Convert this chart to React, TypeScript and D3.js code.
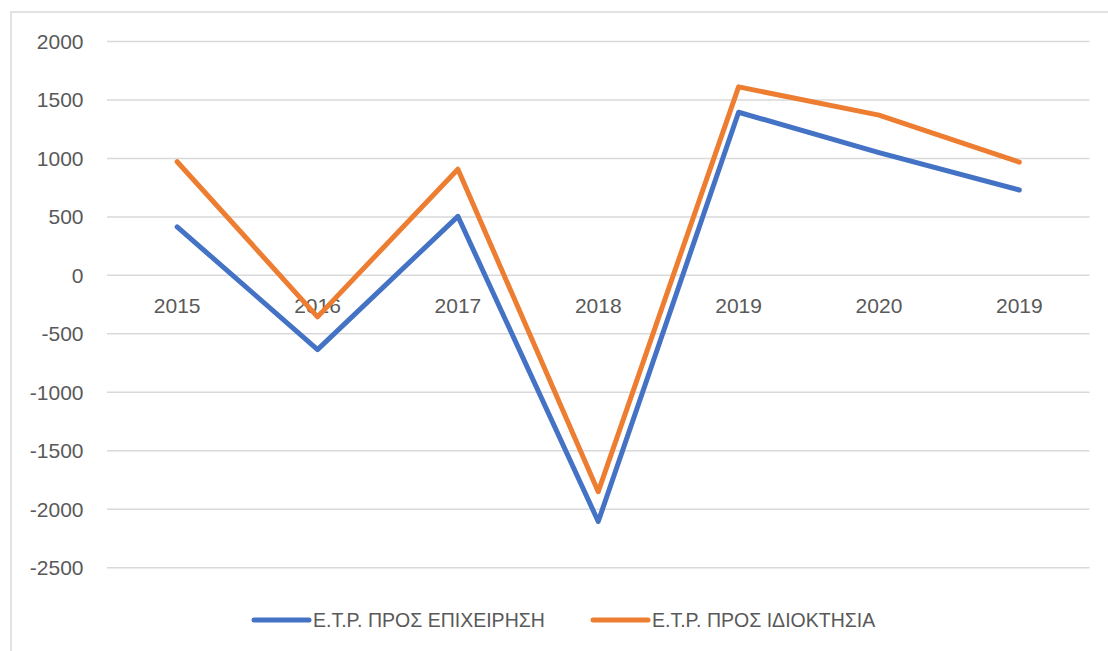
import React from "react";
import * as d3 from "d3";

const categories = ["2015", "2016", "2017", "2018", "2019", "2020", "2019"];
const seriesNames = ["Ε.Τ.Ρ. ΠΡΟΣ ΕΠΙΧΕΙΡΗΣΗ", "Ε.Τ.Ρ. ΠΡΟΣ ΙΔΙΟΚΤΗΣΙΑ"];
const businessValues = [415, -635, 505, -2105, 1395, 1050, 730];
const ownershipValues = [972, -355, 908, -1850, 1612, 1370, 968];
const yTicks = [2000, 1500, 1000, 500, 0, -500, -1000, -1500, -2000, -2500];
const colors = ["#4472C4", "#ED7D31"];

const W = 1108;
const H = 651;

export default function App() {
  const x = d3
    .scaleBand<number>()
    .domain(categories.map((_, i) => i))
    .range([107, 1089.5])
    .padding(0);
  const y = d3.scaleLinear().domain([-2500, 2000]).range([567.7, 41.5]);
  const line = d3
    .line<number>()
    .x((_, i) => (x(i) as number) + x.bandwidth() / 2)
    .y((d) => y(d));
  const series = [businessValues, ownershipValues];
  const font = "'Liberation Sans', Arial, sans-serif";
  const legendX = [254, 593];

  return (
    <svg
      width={W}
      height={H}
      style={{ position: "absolute", left: 0, top: 0, background: "#fff" }}
    >
      <rect x={11} y={12} width={1200} height={700} fill="#fff" stroke="#D9D9D9" strokeWidth={1.5} />
      {yTicks.map((t) => (
        <g key={t}>
          <line x1={107} x2={1089.5} y1={y(t)} y2={y(t)} stroke="#D9D9D9" strokeWidth={1.5} />
          <text
            x={83.5}
            y={y(t)}
            dy="0.35em"
            textAnchor="end"
            fontFamily={font}
            fontSize={21}
            fill="#595959"
          >
            {t}
          </text>
        </g>
      ))}
      {categories.map((c, i) => (
        <text
          key={i}
          x={(x(i) as number) + x.bandwidth() / 2}
          y={313}
          textAnchor="middle"
          fontFamily={font}
          fontSize={21}
          fill="#595959"
        >
          {c}
        </text>
      ))}
      {series.map((s, k) => (
        <path
          key={k}
          d={line(s) || ""}
          fill="none"
          stroke={colors[k]}
          strokeWidth={5}
          strokeLinecap="round"
          strokeLinejoin="round"
        />
      ))}
      {seriesNames.map((n, k) => (
        <g key={n}>
          <line
            x1={legendX[k]}
            x2={legendX[k] + 55}
            y1={620}
            y2={620}
            stroke={colors[k]}
            strokeWidth={5}
            strokeLinecap="round"
          />
          <text
            x={legendX[k] + 59}
            y={627}
            fontFamily={font}
            fontSize={19.5}
            fill="#595959"
          >
            {n}
          </text>
        </g>
      ))}
    </svg>
  );
}
